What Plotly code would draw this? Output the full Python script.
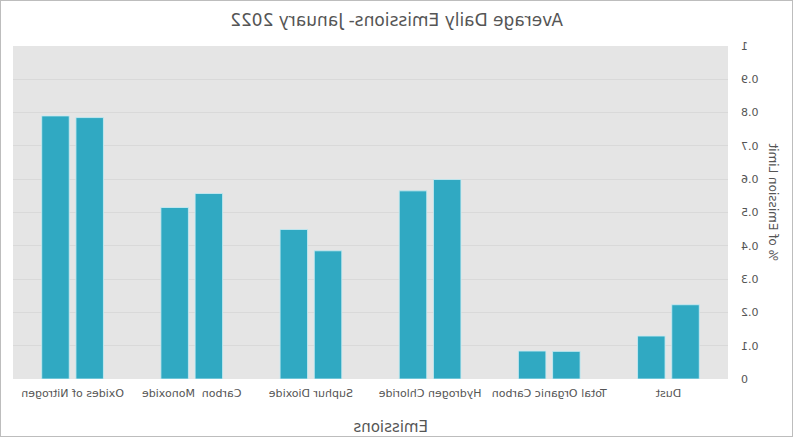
import plotly.graph_objects as go

# ---- data (original, un-mirrored order) ----
categories = ["Dust", "Total Organic Carbon", "Hydrogen Chloride",
              "Suphur Dioxide", "Carbon\u00a0 Monoxide", "Oxides of Nitrogen"]
series_a = [0.223, 0.083, 0.599, 0.385, 0.557, 0.785]
series_b = [0.129, 0.084, 0.565, 0.449, 0.515, 0.790]
y_ticks = [0, 0.1, 0.2, 0.3, 0.4, 0.5, 0.6, 0.7, 0.8, 0.9, 1]
y_tick_labels = ["0", "0.1", "0.2", "0.3", "0.4", "0.5", "0.6", "0.7", "0.8", "0.9", "1"]

BAR = "#30a9c2"
EDGE = "rgba(200,235,242,0.85)"
FONT = "DejaVu Sans, Verdana, sans-serif"

W, H = 793, 437
ML, MR, MT, MB = 65, 13, 46, 58
PW, PH = W - ML - MR, H - MT - MB

fig = go.Figure()
for vals in (series_a, series_b):
    fig.add_trace(go.Bar(
        x=categories, y=vals,
        marker=dict(color=BAR, line=dict(color=EDGE, width=1)),
        showlegend=False,
    ))

fig.update_layout(
    width=W, height=H,
    margin=dict(l=ML, r=MR, t=MT, b=MB, pad=0),
    paper_bgcolor="white",
    plot_bgcolor="#e5e5e5",
    barmode="group",
    bargap=0.426,
    bargroupgap=0.196,
    font=dict(family=FONT, color="#555555", size=11),
    title=dict(text="Average Daily Emissions- January 2022",
               x=0.5, xref="container", xanchor="center",
               y=1 - 20 / H, yref="container", yanchor="middle",
               font=dict(family=FONT, size=17, color="#555555")),
    xaxis=dict(showgrid=False, zeroline=False, showline=False,
               ticks="", tickfont=dict(size=11, color="#555555"),
               ticklabelstandoff=6, fixedrange=True),
    yaxis=dict(range=[0, 1], tickvals=y_ticks, ticktext=y_tick_labels,
               showgrid=True, gridcolor="#d9d9d9", gridwidth=1,
               zeroline=False, showline=False, ticks="",
               tickfont=dict(size=11, color="#555555"),
               ticklabelstandoff=12, fixedrange=True),
    annotations=[
        dict(text="Emissions", xref="paper", yref="paper",
             x=(402 - ML) / PW, y=-(427 - (H - MB)) / PH,
             xanchor="center", yanchor="middle", showarrow=False,
             font=dict(family=FONT, size=15, color="#555555")),
        dict(text="% of Emission Limit", xref="paper", yref="paper",
             x=-(ML - 20) / PW, y=((H - MB) - 202) / PH, textangle=-90,
             xanchor="center", yanchor="middle", showarrow=False,
             font=dict(family=FONT, size=12, color="#555555")),
    ],
    shapes=[dict(type="rect", xref="paper", yref="paper",
                 x0=-ML / PW, x1=1 + MR / PW, y0=-MB / PH, y1=1 + MT / PH,
                 line=dict(color="#bdbdbd", width=2), fillcolor="rgba(0,0,0,0)",
                 layer="above")],
)

post = ("document.body.style.margin='0';"
        "var d=document.getElementById('{plot_id}');"
        "d.style.transform='scaleX(-1)';")

fig.write_html("out.html", post_script=post, config={"displayModeBar": False})
